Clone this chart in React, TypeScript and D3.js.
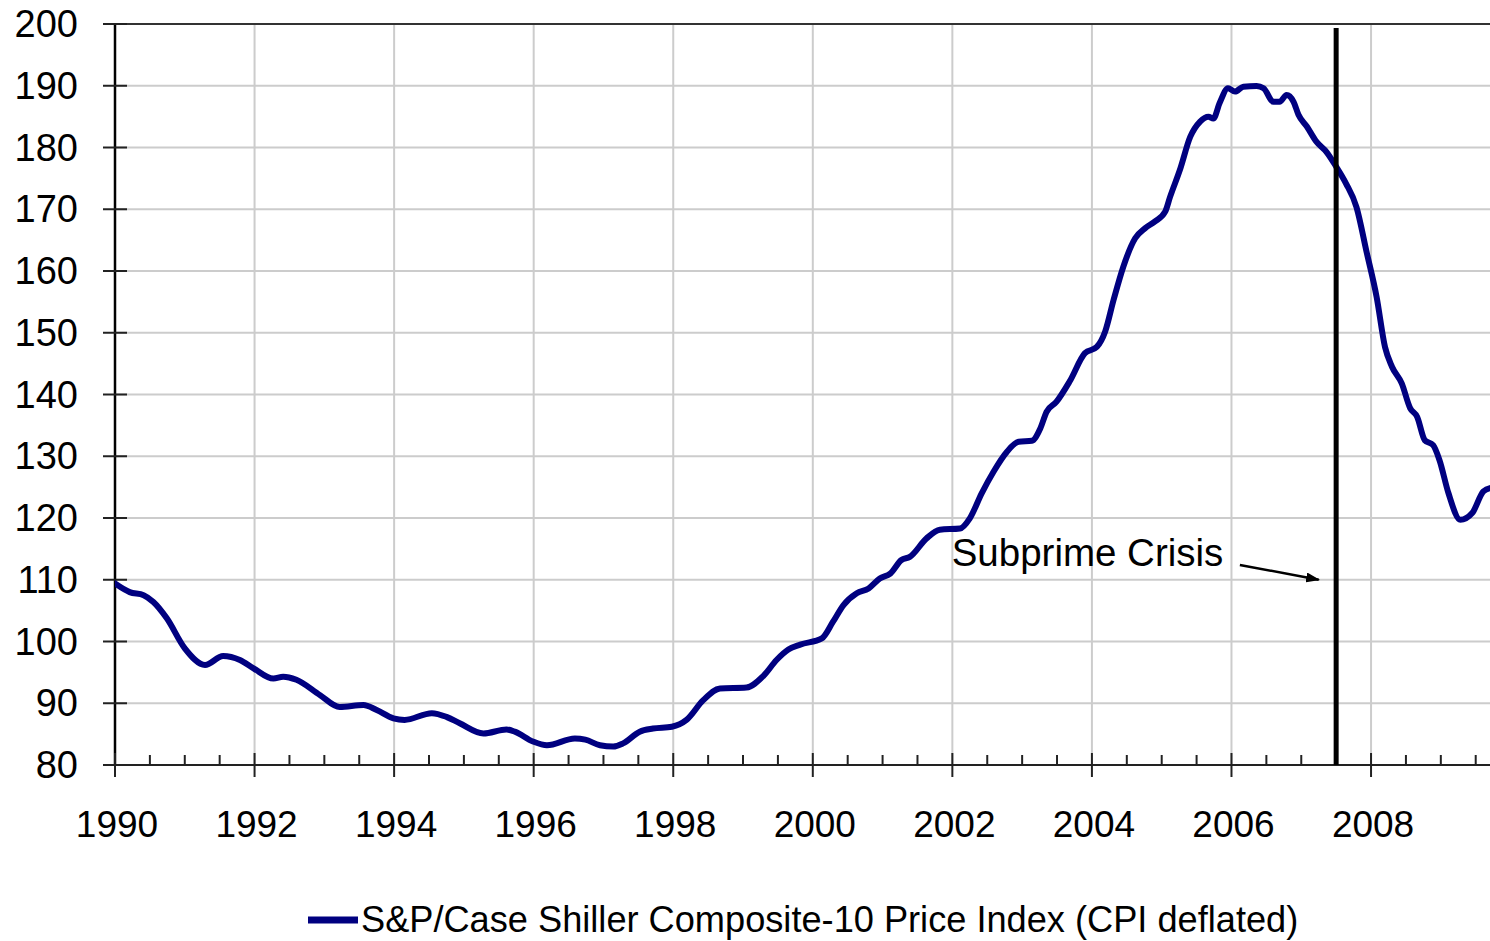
import React from "react";
import * as d3 from "d3";

// Traced points of the S&P/Case Shiller Composite-10 index (CPI deflated)
const dates: number[] = [
  1990.0, 1990.21, 1990.41, 1990.55, 1990.74, 1991.0, 1991.29, 1991.55, 1991.79, 1991.98,
  1992.27, 1992.41, 1992.6, 1992.94, 1993.22, 1993.56, 1993.75, 1993.99, 1994.15, 1994.54,
  1994.75, 1994.94, 1995.28, 1995.61, 1995.73, 1995.99, 1996.19, 1996.59, 1996.74, 1996.95,
  1997.14, 1997.28, 1997.52, 1997.71, 1997.98, 1998.19, 1998.43, 1998.67, 1999.05, 1999.29,
  1999.48, 1999.65, 1999.82, 2000.13, 2000.29, 2000.44, 2000.63, 2000.8, 2000.96, 2001.11,
  2001.27, 2001.39, 2001.63, 2001.82, 2002.11, 2002.25, 2002.42, 2002.59, 2002.78, 2002.95,
  2003.14, 2003.26, 2003.35, 2003.49, 2003.68, 2003.9, 2004.07, 2004.19, 2004.31, 2004.45,
  2004.62, 2004.76, 2004.9, 2005.05, 2005.12, 2005.26, 2005.41, 2005.55, 2005.67, 2005.74,
  2005.83, 2005.95, 2006.05, 2006.17, 2006.36, 2006.46, 2006.6, 2006.69, 2006.79, 2006.89,
  2006.96, 2007.08, 2007.22, 2007.36, 2007.5, 2007.64, 2007.79, 2007.94, 2008.08, 2008.2,
  2008.3, 2008.44, 2008.56, 2008.66, 2008.77, 2008.89, 2008.98, 2009.11, 2009.28, 2009.45,
  2009.61, 2009.72,
];
const values: number[] = [
  109.4, 108.0, 107.5, 106.4, 103.8, 98.9, 96.2, 97.65, 97.0, 95.7,
  94.0, 94.3, 93.8, 91.3, 89.4, 89.7, 88.9, 87.55, 87.3, 88.4,
  87.8, 86.75, 85.1, 85.75, 85.4, 83.8, 83.2, 84.3, 84.1, 83.2,
  83.0, 83.5, 85.4, 85.9, 86.2, 87.3, 90.5, 92.4, 92.55, 94.4,
  97.0, 98.7, 99.5, 100.5, 103.2, 105.9, 107.8, 108.6, 110.2, 111.0,
  113.2, 113.7, 116.7, 118.1, 118.3, 119.95, 124.0, 127.5, 130.7, 132.35,
  132.5, 134.5, 137.2, 138.8, 142.1, 146.7, 147.7, 150.2, 155.3, 160.7,
  165.3, 166.9, 168.0, 169.6, 172.0, 176.35, 181.75, 184.2, 185.0, 184.7,
  187.2, 189.6, 189.05, 189.85, 189.95, 189.6, 187.4, 187.4, 188.5, 187.4,
  185.3, 183.4, 180.9, 179.3, 176.9, 174.2, 170.4, 162.9, 155.8, 147.7,
  144.5, 141.8, 137.8, 136.4, 132.6, 131.8, 129.4, 124.0, 119.7, 120.8,
  124.3, 124.9,
];

const yTicks: number[] = [80, 90, 100, 110, 120, 130, 140, 150, 160, 170, 180, 190, 200];
const xMajorTicks: number[] = [1990, 1992, 1994, 1996, 1998, 2000, 2002, 2004, 2006, 2008];
const seriesName = "S&P/Case Shiller Composite-10 Price Index (CPI deflated)";
const annotationText = "Subprime Crisis";
const crisisDate = 2007.5;
const arrowFrom: [number, number] = [2006.12, 112.4];
const arrowTo: [number, number] = [2007.25, 110.0];
const labelAt: [number, number] = [2001.99, 112.4];

const W = 1490;
const H = 941;
const left = 115;
const top = 24;
const bottom = 765;
const right = 1490;
const pxPerYear = 69.78;

const FONT = "'Liberation Sans', Arial, sans-serif";
const NAVY = "#000080";

export default function App() {
  const x = d3
    .scaleLinear()
    .domain([1990, 1990 + (right - left) / pxPerYear])
    .range([left, right]);
  const y = d3.scaleLinear().domain([80, 200]).range([bottom, top]);

  const pts: [number, number][] = dates.map((d, i) => [d, values[i]]);
  const line = d3
    .line<[number, number]>()
    .x((d) => x(d[0]))
    .y((d) => y(d[1]))
    .curve(d3.curveMonotoneX);

  const minorTicks: number[] = d3.range(1990, 2009.71, 0.5).filter((t) => t % 2 !== 0);

  return (
    <svg
      width={W}
      height={H}
      style={{ position: "absolute", left: 0, top: 0, background: "#fff" }}
      fontFamily={FONT}
    >
      <defs>
        <clipPath id="plot">
          <rect x={left} y={top - 5} width={right - left} height={bottom - top + 10} />
        </clipPath>
        <marker
          id="arrow"
          viewBox="0 0 10 10"
          refX="9"
          refY="5"
          markerWidth="14"
          markerHeight="10"
          markerUnits="userSpaceOnUse"
          orient="auto"
          preserveAspectRatio="none"
        >
          <path d="M0,0 L10,5 L0,10 z" fill="#000" />
        </marker>
      </defs>
      <rect x={0} y={0} width={W} height={H} fill="#fff" />

      {/* horizontal gridlines */}
      {yTicks
        .filter((v) => v !== 80 && v !== 200)
        .map((v) => (
          <line key={"hg" + v} x1={left} x2={right} y1={y(v)} y2={y(v)} stroke="#cccccc" strokeWidth={2} />
        ))}
      {/* vertical gridlines */}
      {xMajorTicks
        .filter((t) => t !== 1990)
        .map((t) => (
          <line key={"vg" + t} x1={x(t)} x2={x(t)} y1={top} y2={bottom} stroke="#cccccc" strokeWidth={2} />
        ))}

      {/* top border */}
      <line x1={left - 12} x2={right} y1={y(200)} y2={y(200)} stroke="#333" strokeWidth={2} />

      {/* y axis */}
      <line x1={left} x2={left} y1={top} y2={bottom} stroke="#000" strokeWidth={2.5} />
      {yTicks.map((v) => (
        <g key={"yt" + v}>
          <line x1={left - 12} x2={left + 12} y1={y(v)} y2={y(v)} stroke="#222" strokeWidth={2} />
          <text
            x={78}
            y={y(v)}
            textAnchor="end"
            dominantBaseline="central"
            fontSize={38}
            fill="#000"
          >
            {v}
          </text>
        </g>
      ))}

      {/* x axis */}
      <line x1={left - 12} x2={right} y1={bottom} y2={bottom} stroke="#222" strokeWidth={2} />
      {xMajorTicks.map((t) => (
        <g key={"xt" + t}>
          <line x1={x(t)} x2={x(t)} y1={bottom - 12} y2={bottom + 12} stroke="#222" strokeWidth={2} />
          <text x={x(t) + 2} y={837} textAnchor="middle" fontSize={37} fill="#000">
            {t}
          </text>
        </g>
      ))}
      {minorTicks.map((t) => (
        <line key={"mt" + t} x1={x(t)} x2={x(t)} y1={bottom - 10} y2={bottom} stroke="#222" strokeWidth={2} />
      ))}

      {/* series */}
      <g clipPath="url(#plot)">
        <path
          d={line(pts) || ""}
          fill="none"
          stroke={NAVY}
          strokeWidth={6}
          strokeLinejoin="round"
          strokeLinecap="round"
        />
      </g>

      {/* crisis line */}
      <line x1={x(crisisDate)} x2={x(crisisDate)} y1={top + 4} y2={bottom} stroke="#000" strokeWidth={5} />

      {/* annotation */}
      <text x={x(labelAt[0])} y={y(labelAt[1]) + 1} fontSize={38.5} fill="#000">
        {annotationText}
      </text>
      <line
        x1={x(arrowFrom[0])}
        y1={y(arrowFrom[1])}
        x2={x(arrowTo[0])}
        y2={y(arrowTo[1])}
        stroke="#000"
        strokeWidth={2.5}
        markerEnd="url(#arrow)"
      />

      {/* legend */}
      <line x1={308} x2={358} y1={920} y2={920} stroke={NAVY} strokeWidth={7} />
      <text x={361} y={932} fontSize={36.2} fill="#000">
        {seriesName}
      </text>
    </svg>
  );
}
